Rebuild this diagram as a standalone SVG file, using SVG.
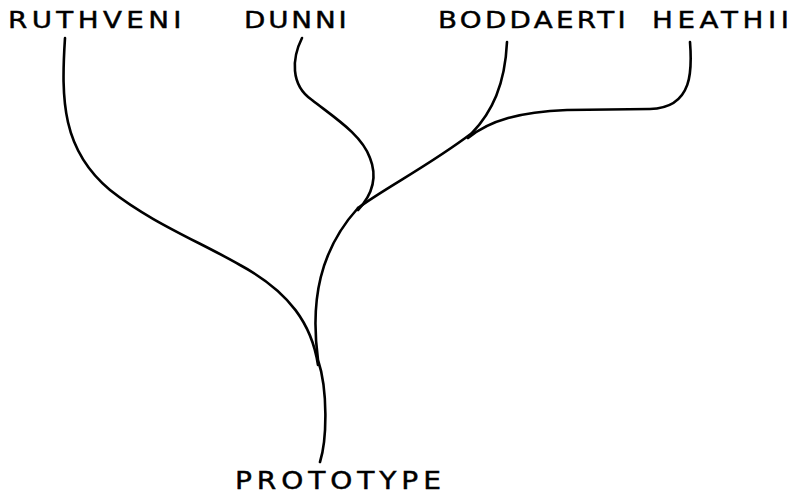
<svg xmlns="http://www.w3.org/2000/svg" width="789" height="495" viewBox="0 0 789 495">
  <style>
    .label { font-family: "DejaVu Sans", "Liberation Sans", sans-serif; font-size: 23.5px; fill: #000; stroke: #000; stroke-width: 0.45; }
    .root { font-size: 24px; }
    .branch { fill: none; stroke: #000; stroke-width: 2.6; stroke-linecap: round; stroke-linejoin: round; }
  </style>
  <rect width="789" height="495" fill="#fff"/>

  <!-- branches of the tree -->
  <g id="connectors">
    <!-- trunk from the prototype up to the main fork -->
    <path class="branch" d="M320,462 C327,440 328,390 318,360 C310,300 320,250 358,208"/>
    <!-- ruthveni branch -->
    <path class="branch" d="M65,38 C61,100 62,150 110,190 C150,222 200,242 240,265 C290,292 312,325 318,365"/>
    <!-- dunni branch -->
    <path class="branch" d="M302,38 C292,58 290,85 312,100 C335,118 362,135 370,158 C378,178 372,195 358,210"/>
    <!-- limb to the boddaerti / heathii fork -->
    <path class="branch" d="M358,208 C385,188 430,165 472,133"/>
    <!-- boddaerti branch -->
    <path class="branch" d="M472,133 C492,112 505,85 507,42"/>
    <!-- heathii branch -->
    <path class="branch" d="M690,42 C692,68 694,108 650,109 L567,110 C520,112 490,120 468,138"/>
  </g>

  <!-- labels are widened slightly to suit the lettering-guide style -->
  <g id="node-ruthveni">
    <text class="label" transform="translate(8,28) scale(1.18,1)" x="0" y="0" textLength="147" lengthAdjust="spacing">RUTHVENI</text>
  </g>
  <g id="node-dunni">
    <text class="label" transform="translate(244,28) scale(1.18,1)" x="0" y="0" textLength="87" lengthAdjust="spacing">DUNNI</text>
  </g>
  <g id="node-boddaerti">
    <text class="label" transform="translate(438,28) scale(1.18,1)" x="0" y="0" textLength="159" lengthAdjust="spacing">BODDAERTI</text>
  </g>
  <g id="node-heathii">
    <text class="label" transform="translate(652,28) scale(1.18,1)" x="0" y="0" textLength="116" lengthAdjust="spacing">HEATHII</text>
  </g>
  <g id="node-prototype">
    <text class="label root" transform="translate(235,489) scale(1.17,1)" x="0" y="0" textLength="176" lengthAdjust="spacing">PROTOTYPE</text>
  </g>
</svg>
